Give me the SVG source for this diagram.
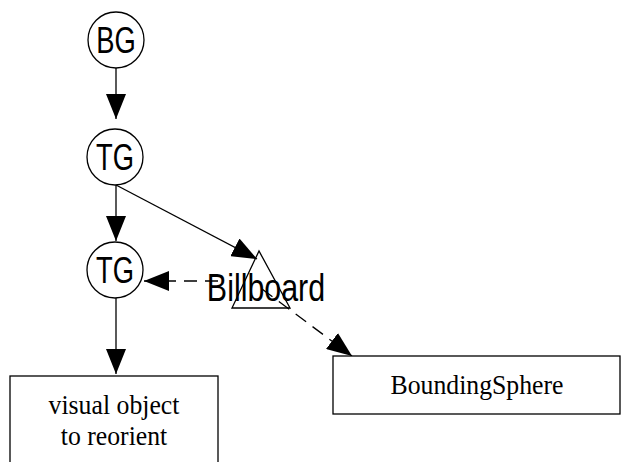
<svg xmlns="http://www.w3.org/2000/svg" width="621" height="462" viewBox="0 0 621 462">
  <style>
    .node { fill: #ffffff; stroke: #000000; stroke-width: 1.3; }
    .lbl { font-family: 'Liberation Sans', Arial, sans-serif; font-size: 37px; text-anchor: middle; fill: #000000; }
    .box-lbl { font-family: 'Liberation Serif', 'Times New Roman', serif; font-size: 28px; text-anchor: middle; fill: #000000; }
    .edge { fill: none; stroke: #000000; stroke-width: 1.3; }
    .dash { stroke-dasharray: 13 8; }
  </style>
  <defs>
    <marker id="head" markerUnits="userSpaceOnUse" markerWidth="26" markerHeight="20" refX="25" refY="10" orient="auto" viewBox="0 0 26 20">
      <path d="M0,0 L25,10 L0,20 z" fill="#000000"/>
    </marker>
  </defs>

  <!-- connectors -->
  <g id="edges">
    <line class="edge" x1="116" y1="68" x2="116" y2="119" marker-end="url(#head)"/>
    <line class="edge" x1="116" y1="185" x2="116" y2="241" marker-end="url(#head)"/>
    <line class="edge" x1="116" y1="185" x2="257" y2="259" marker-end="url(#head)"/>
    <line class="edge dash" x1="218" y1="281" x2="144" y2="281" marker-end="url(#head)"/>
    <line class="edge dash" x1="262" y1="289" x2="352" y2="356" marker-end="url(#head)"/>
    <line class="edge" x1="116" y1="298" x2="116" y2="374" marker-end="url(#head)"/>
  </g>

  <g id="bg">
    <circle class="node" cx="116" cy="40" r="28"/>
    <text class="lbl" transform="translate(116,53) scale(0.74,1)">BG</text>
  </g>

  <g id="tg1">
    <circle class="node" cx="115" cy="157" r="28"/>
    <text class="lbl" transform="translate(115,170) scale(0.74,1)">TG</text>
  </g>

  <g id="tg2">
    <circle class="node" cx="115" cy="270" r="28"/>
    <text class="lbl" transform="translate(115,283) scale(0.74,1)">TG</text>
  </g>

  <g id="billboard">
    <polygon class="node" style="fill:none" points="259,251 232,308 290,308"/>
    <text class="lbl" transform="translate(266,301) scale(0.8,1)" style="font-size:38px">Billboard</text>
  </g>

  <g id="visual-object">
    <rect class="node" x="10" y="376" width="208" height="100"/>
    <text class="box-lbl" font-family="Liberation Serif, serif" transform="translate(114,414) scale(0.92,1)">visual object</text>
    <text class="box-lbl" font-family="Liberation Serif, serif" transform="translate(114,445) scale(0.92,1)">to reorient</text>
  </g>

  <g id="bounding-sphere">
    <rect class="node" x="333" y="356" width="287" height="58"/>
    <text class="box-lbl" font-family="Liberation Serif, serif" transform="translate(477,394) scale(0.92,1)">BoundingSphere</text>
  </g>
</svg>
